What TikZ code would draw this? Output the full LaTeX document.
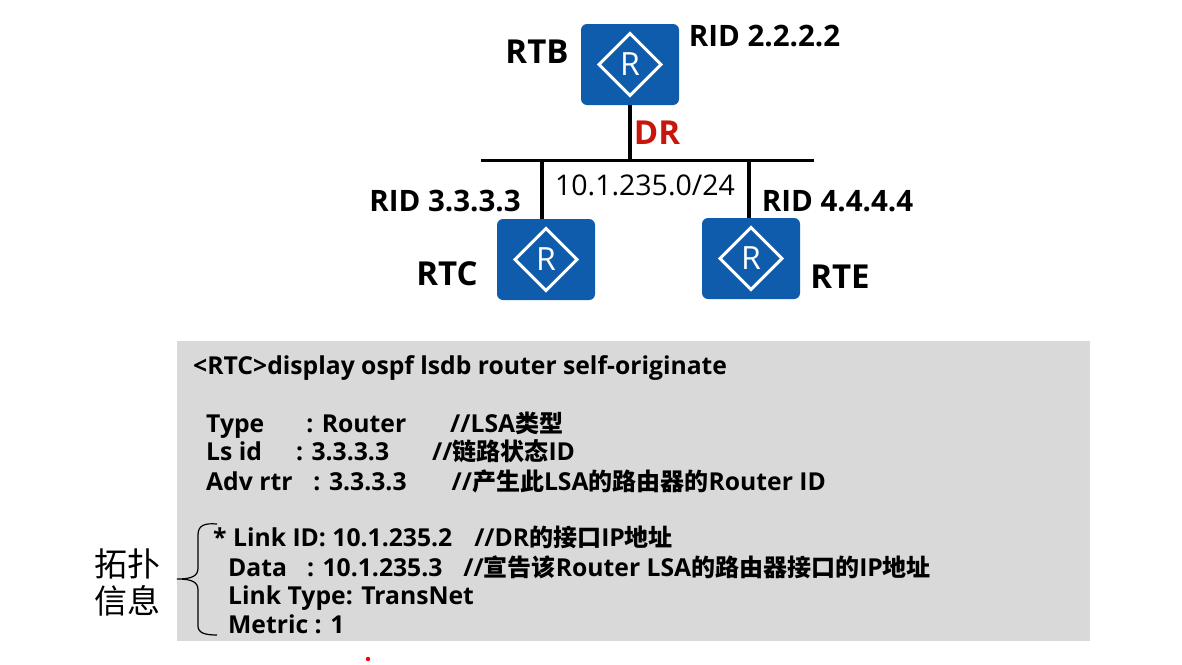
\documentclass[tikz,border=0pt]{standalone}
\usepackage{fontspec}
\setmainfont{Open Sans}
\newfontfamily\cjk{Noto Sans CJK SC}
\definecolor{routerblue}{RGB}{15,92,172}
\definecolor{panelgray}{RGB}{217,217,217}
\definecolor{drred}{RGB}{200,22,12}
\tikzset{
  routerbox/.style={fill=routerblue, rounded corners=6pt, minimum width=98pt, minimum height=81pt, inner sep=0pt},
  routerlabel/.style={font=\fontsize{33}{35}\selectfont\bfseries, inner sep=0pt},
  ridlabel/.style={font=\fontsize{29.5}{32}\selectfont\bfseries, inner sep=0pt},
  cliline/.style={anchor=base west, font=\fontsize{24.7}{27}\selectfont\bfseries, inner sep=0pt},
  wire/.style={line width=3.6pt}
}
\newcommand{\zh}[1]{{\cjk\bfseries\fontsize{24}{27}\selectfont #1}}
\begin{document}
\begin{tikzpicture}[x=1pt,y=-1pt]
  \useasboundingbox (0,0) rectangle (1182,664);
  \fill[panelgray] (177,341) rectangle (1090,641);
  % routers
  \node[routerbox] (rtb) at (630,64.5) {};
  \node[routerbox] (rtc) at (546,259.5) {};
  \node[routerbox] (rte) at (751,258.5) {};
  \foreach \r in {rtb,rtc,rte} {
    \draw[white, line width=3pt] (\r) +(-31,0) -- +(0,-31) -- +(31,0) -- +(0,31) -- cycle;
    \node[white, inner sep=0pt, font=\fontsize{32}{32}\selectfont] at (\r) {R};
  }
  % bus
  \coordinate (busl) at (481,160.5);
  \coordinate (busr) at (814,160.5);
  \draw[wire] (busl) -- (busr);
  \draw[wire] (rtb.south) -- (rtb.south |- busl);
  \draw[wire] (rtc.north -| 542,0) -- (542,160);
  \draw[wire] (rte.north -| 749,0) -- (749,160);
  % labels
  \node[routerlabel] (rtbname) at (537,52) {RTB};
  \node[routerlabel] (rtcname) at (447,274) {RTC};
  \node[routerlabel] (rtename) at (840,277) {RTE};
  \node[ridlabel] (ridb) at (764.5,36) {RID 2.2.2.2};
  \node[ridlabel] (ridc) at (445,201) {RID 3.3.3.3};
  \node[ridlabel] (ride) at (837.5,201) {RID 4.4.4.4};
  \node[routerlabel, text=drred] (drname) at (657,133) {DR};
  \node[inner sep=0pt, font=\fontsize{28.5}{30}\selectfont] (subnet) at (645,185) {10.1.235.0/24};
  % cli output
  \node[cliline] (l1) at (193,374) {<RTC>display ospf lsdb router self-originate};
  \node[cliline] (l2) at (206,432) {Type\hspace{42pt}: Router\hspace{44pt}//LSA\zh{类型}};
  \node[cliline] (l3) at (206,460) {Ls id\hspace{34pt}: 3.3.3.3\hspace{43pt}//\zh{链路状态}ID};
  \node[cliline] (l4) at (206,490) {Adv rtr\hspace{21pt}: 3.3.3.3\hspace{45pt}//\zh{产生此}LSA\zh{的路由器的}Router ID};
  \node[cliline] (l5) at (213,546) {* Link ID: 10.1.235.2\hspace{22pt}//DR\zh{的接口}IP\zh{地址}};
  \node[cliline] (l6) at (228,576) {Data\hspace{20pt}: 10.1.235.3\hspace{21pt}//\zh{宣告该}Router LSA\zh{的路由器接口的}IP\zh{地址}};
  \node[cliline] (l7) at (228,604) {Link Type: TransNet};
  \node[cliline] (l8) at (228,633) {Metric : 1};
  % brace
  \draw[line width=1.2pt] (217,524) .. controls (205,523) and (198,525) .. (198,535)
    -- (198,568) .. controls (198,576) and (192,579) .. (177,579)
    .. controls (192,579) and (198,582) .. (198,590)
    -- (198,626) .. controls (198,633) and (205,635) .. (217,635);
  \node[inner sep=0pt, align=center, font=\cjk\fontsize{33}{37}\selectfont] (topo) at (127,582) {拓扑\\信息};
  \fill[red] (368,659) circle (2.2pt);
\end{tikzpicture}
\end{document}
